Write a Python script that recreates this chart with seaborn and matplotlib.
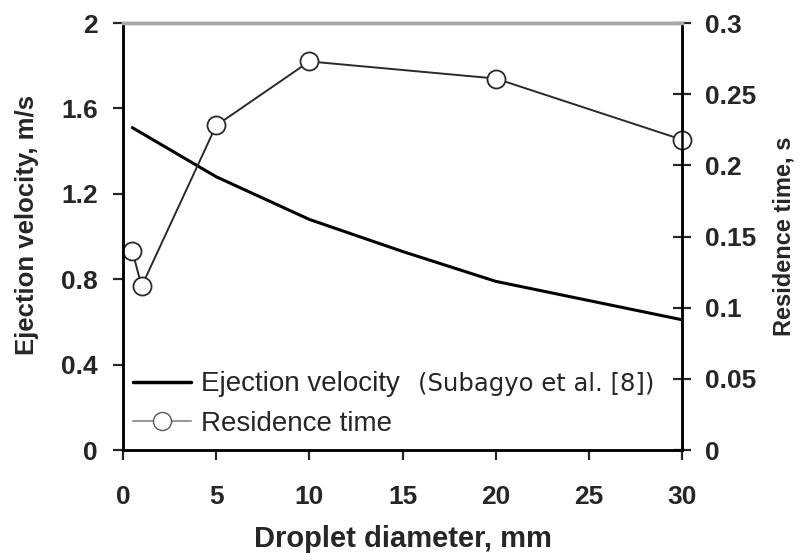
import matplotlib
matplotlib.use("Agg")
import matplotlib.pyplot as plt
import pandas as pd
import seaborn as sns
from matplotlib.lines import Line2D

# ejection velocity (m/s) vs droplet diameter (mm)
vel_diam = [0.5, 5, 10, 15, 20, 25, 30]
vel_vals = [1.51, 1.28, 1.08, 0.93, 0.79, 0.70, 0.61]

# residence time (s) vs droplet diameter (mm)
res_diam = [0.5, 1, 5, 10, 20, 30]
res_vals = [0.140, 0.115, 0.228, 0.273, 0.261, 0.218]

x_ticks = [0, 5, 10, 15, 20, 25, 30]
left_ticks = [0, 0.4, 0.8, 1.2, 1.6, 2]
left_labels = ["0", "0.4", "0.8", "1.2", "1.6", "2"]
right_ticks = [0, 0.05, 0.1, 0.15, 0.2, 0.25, 0.3]
right_labels = ["0", "0.05", "0.1", "0.15", "0.2", "0.25", "0.3"]

sns.set_style("ticks")
plt.rcParams["font.family"] = ["Liberation Sans", "DejaVu Sans"]

df_vel = pd.DataFrame({"d": vel_diam, "v": vel_vals})
df_res = pd.DataFrame({"d": res_diam, "t": res_vals})

fig = plt.figure(figsize=(8.08, 5.6), dpi=100)
ax = fig.add_axes([0.1522, 0.1964, 0.692, 0.7625])
ax2 = ax.twinx()

sns.lineplot(data=df_vel, x="d", y="v", color="black", linewidth=2.2, ax=ax)
sns.lineplot(data=df_res, x="d", y="t", color="#2a2a2a", linewidth=1.4,
             marker="o", markersize=13, markerfacecolor="white",
             markeredgecolor="#2a2a2a", markeredgewidth=1.3, ax=ax2,
             clip_on=False)

ax.set_xlim(0, 30)
ax.set_ylim(0, 2)
ax2.set_ylim(0, 0.3)
ax.set_xticks(x_ticks)
ax.set_yticks(left_ticks)
ax.set_yticklabels(left_labels)
ax2.set_yticks(right_ticks)
ax2.set_yticklabels(right_labels)

fs = 19
ax.tick_params(axis="both", labelsize=fs, length=7, width=1.6, direction="out")
ax.tick_params(axis="y", pad=11)
ax.tick_params(axis="x", pad=18)
ax2.tick_params(axis="y", labelsize=fs, length=13, width=1.6, direction="inout", pad=10)
for lab in ax.get_xticklabels() + ax.get_yticklabels() + ax2.get_yticklabels():
    lab.set_fontweight("bold")

for a in (ax, ax2):
    for s in a.spines.values():
        s.set_linewidth(1.8)
        s.set_color("black")
    a.spines["top"].set_color("#a8a8a8")
    a.spines["top"].set_linewidth(2.5)

ax.set_xlabel("Droplet diameter, mm", fontsize=21, fontweight="bold", labelpad=12)
ax.set_ylabel("Ejection velocity, m/s", fontsize=18.5, fontweight="bold")
ax.yaxis.set_label_coords(-0.15, 0.527)
ax2.set_ylabel("Residence time, s", fontsize=17, fontweight="bold", labelpad=12)

handles = [
    Line2D([], [], color="black", linewidth=2.5),
    Line2D([], [], color="#999999", linewidth=1.5, marker="o", markersize=13,
           markerfacecolor="white", markeredgecolor="#555555"),
]
ax.legend(handles, ["Ejection velocity", "Residence time"], loc="lower left",
          bbox_to_anchor=(0.018, 0.03), frameon=False, fontsize=20,
          borderpad=0, borderaxespad=0,
          handlelength=2.1, handletextpad=0.33, labelspacing=0.5)
ax.text(0.528, 0.155, "(Subagyo et al. [8])", transform=ax.transAxes,
        fontsize=17.5, family="DejaVu Sans", va="center", ha="left")

fig.savefig("out.png", dpi=100)
